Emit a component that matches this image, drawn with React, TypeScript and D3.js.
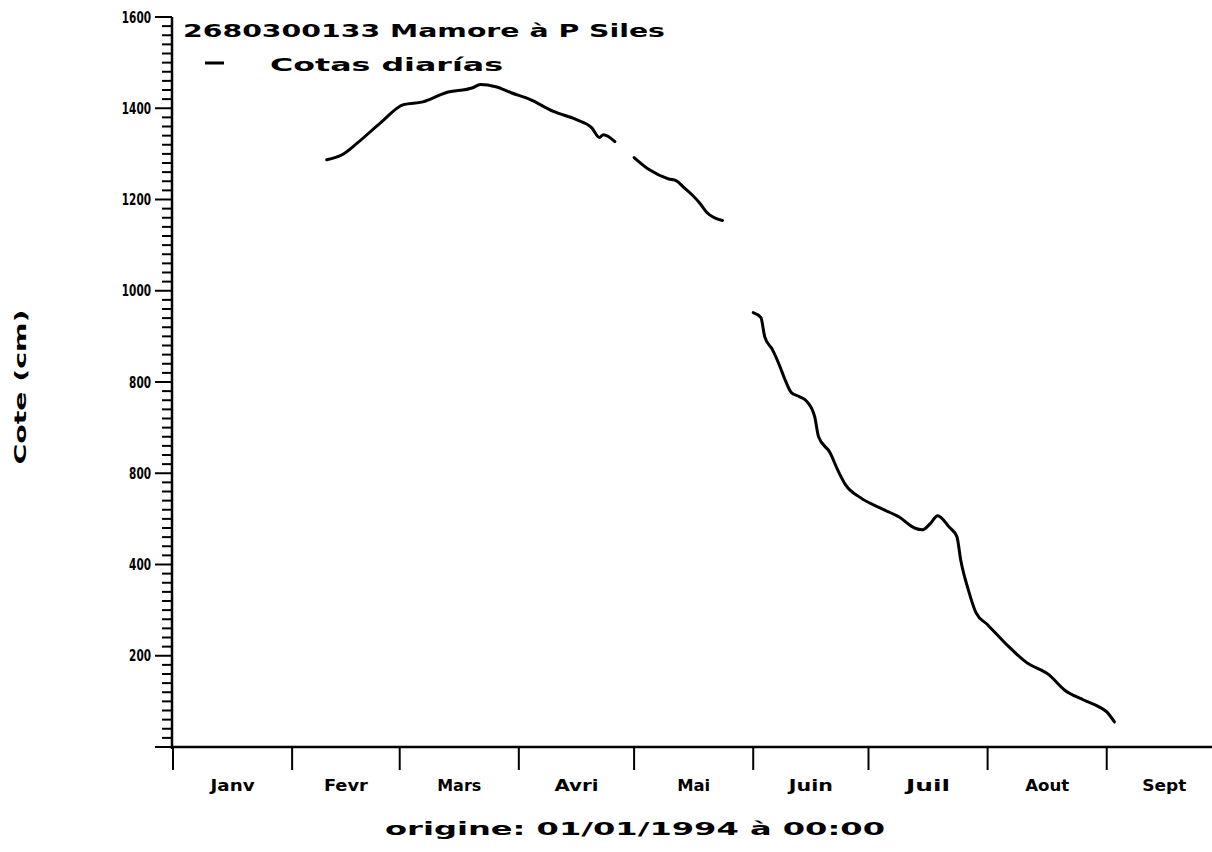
import React from "react";
import * as d3 from "d3";

const W = 1212;
const H = 852;

const monthLabels = ["Janv", "Fevr", "Mars", "Avri", "Mai", "Juin", "Juil", "Aout", "Sept"];
const yTickValues = [200, 400, 600, 800, 1000, 1200, 1400, 1600];
const yTickLabels = ["200", "400", "800", "800", "1000", "1200", "1400", "1600"];

const title = "2680300133 Mamore à P Siles";
const legendLabel = "Cotas diarías";
const yTitle = "Cote (cm)";
const footer = "origine: 01/01/1994 à 00:00";

// Segment 1 (Feb - Apr)
const seg1Dates = [
  "1994-02-10", "1994-02-14", "1994-02-18", "1994-02-24", "1994-03-02", "1994-03-07",
  "1994-03-13", "1994-03-20", "1994-03-22", "1994-03-26", "1994-03-30", "1994-04-04",
  "1994-04-10", "1994-04-16", "1994-04-20", "1994-04-22", "1994-04-23", "1994-04-26",
];
const seg1Values = [1287, 1298, 1324, 1368, 1408, 1414, 1434, 1445, 1452, 1447, 1434, 1419, 1393, 1375, 1357, 1336, 1342, 1327];

// Segment 2 (May)
const seg2Dates = [
  "1994-05-01", "1994-05-05", "1994-05-10", "1994-05-12", "1994-05-14", "1994-05-16",
  "1994-05-18", "1994-05-20", "1994-05-24",
];
const seg2Values = [1292, 1265, 1245, 1241, 1226, 1211, 1193, 1171, 1154];

// Segment 3 (Jun - Sep)
const seg3Dates = [
  "1994-06-01", "1994-06-03", "1994-06-04", "1994-06-06", "1994-06-08", "1994-06-09",
  "1994-06-11", "1994-06-13", "1994-06-15", "1994-06-17", "1994-06-18", "1994-06-21",
  "1994-06-23", "1994-06-25", "1994-06-29", "1994-07-04", "1994-07-09", "1994-07-13",
  "1994-07-15", "1994-07-17", "1994-07-19", "1994-07-22", "1994-07-24", "1994-07-25",
  "1994-07-27", "1994-07-29", "1994-08-01", "1994-08-06", "1994-08-11", "1994-08-17",
  "1994-08-21", "1994-08-26", "1994-08-30", "1994-09-01", "1994-09-03",
];
const seg3Values = [
  952, 941, 899, 871, 833, 811, 776, 768, 757, 724, 680, 645, 607, 575, 546, 524, 504, 480,
  476, 489, 507, 482, 461, 410, 344, 294, 268, 224, 186, 158, 125, 103, 88, 77, 55,
];

const parse = d3.utcParse("%Y-%m-%d");

export default function App() {
  const x = d3
    .scaleUtc()
    .domain([Date.UTC(1994, 0, 1), Date.UTC(1994, 9, 1)])
    .range([173, 1222]);
  const y = d3.scaleLinear().domain([0, 1600]).range([747, 17]);

  const line = d3
    .line<[Date, number]>()
    .x((d) => x(d[0]))
    .y((d) => y(d[1]))
    .curve(d3.curveMonotoneX);

  const segments = [
    [seg1Dates, seg1Values],
    [seg2Dates, seg2Values],
    [seg3Dates, seg3Values],
  ].map(([ds, vs]) => (ds as string[]).map((d, i) => [parse(d) as Date, (vs as number[])[i]] as [Date, number]));

  const monthStarts = d3.utcMonths(new Date(Date.UTC(1994, 0, 1)), new Date(Date.UTC(1994, 9, 1)));
  const minorTicks = d3.range(0, 1601, 20);
  const x0 = x(Date.UTC(1994, 0, 1));
  const font = "'DejaVu Sans', Verdana, sans-serif";

  return (
    <svg width={W} height={H} viewBox={`0 0 ${W} ${H}`} style={{ display: "block", position: "absolute", left: 0, top: 0, background: "#fff" }}>
      <rect width={W} height={H} fill="#fff" />
      {/* Y axis */}
      <line x1={x0 - 1} x2={x0 - 1} y1={y(0) + 2} y2={y(1600)} stroke="#000" strokeWidth={2.5} />
      {minorTicks.map((v) => (
        <line
          key={"m" + v}
          x1={x0 - 1}
          x2={v % 200 === 0 ? x0 - 18 : x0 - 11}
          y1={y(v)}
          y2={y(v)}
          stroke="#000"
          strokeWidth={2}
        />
      ))}
      {yTickValues.map((v, i) => (
        <text
          key={"yl" + v}
          x={x0 - 22}
          y={y(v) + 5.5}
          textAnchor="end"
          fontFamily={font}
          fontWeight="bold"
          fontSize={15}
          textLength={yTickLabels[i].length * 7.3}
          lengthAdjust="spacingAndGlyphs"
          fill="#000"
        >
          {yTickLabels[i]}
        </text>
      ))}
      {/* X axis */}
      <line x1={x0 - 2} x2={W} y1={y(0)} y2={y(0)} stroke="#000" strokeWidth={2.5} />
      {monthStarts.map((m) => (
        <line key={"xt" + m.getTime()} x1={x(m)} x2={x(m)} y1={y(0)} y2={y(0) + 23} stroke="#000" strokeWidth={2} />
      ))}
      {monthStarts.map((m, i) => {
        const next = d3.utcMonth.offset(m, 1);
        const cx = (x(m) + x(next)) / 2;
        const lab = monthLabels[i];
        return (
          <text
            key={"xl" + i}
            x={cx}
            y={791}
            textAnchor="middle"
            fontFamily={font}
            fontWeight="bold"
            fontSize={15}
            textLength={lab.length * 11}
            lengthAdjust="spacingAndGlyphs"
            fill="#000"
          >
            {lab}
          </text>
        );
      })}
      {/* Data */}
      {segments.map((s, i) => (
        <path key={"s" + i} d={line(s) || ""} fill="none" stroke="#000" strokeWidth={3} strokeLinejoin="round" strokeLinecap="round" />
      ))}
      {/* Title & legend */}
      <text x={183} y={37} fontFamily={font} fontWeight="bold" fontSize={17} textLength={482} lengthAdjust="spacingAndGlyphs" fill="#000">
        {title}
      </text>
      <line x1={205} x2={224} y1={63} y2={63} stroke="#000" strokeWidth={3} />
      <text x={270} y={71} fontFamily={font} fontWeight="bold" fontSize={17} textLength={233} lengthAdjust="spacingAndGlyphs" fill="#000">
        {legendLabel}
      </text>
      {/* Axis titles */}
      <text
        transform={`translate(26,387) rotate(-90)`}
        textAnchor="middle"
        fontFamily={font}
        fontWeight="bold"
        fontSize={16}
        textLength={155}
        lengthAdjust="spacingAndGlyphs"
        fill="#000"
      >
        {yTitle}
      </text>
      <text x={385} y={835} fontFamily={font} fontWeight="bold" fontSize={18} textLength={500} lengthAdjust="spacingAndGlyphs" fill="#000">
        {footer}
      </text>
    </svg>
  );
}
